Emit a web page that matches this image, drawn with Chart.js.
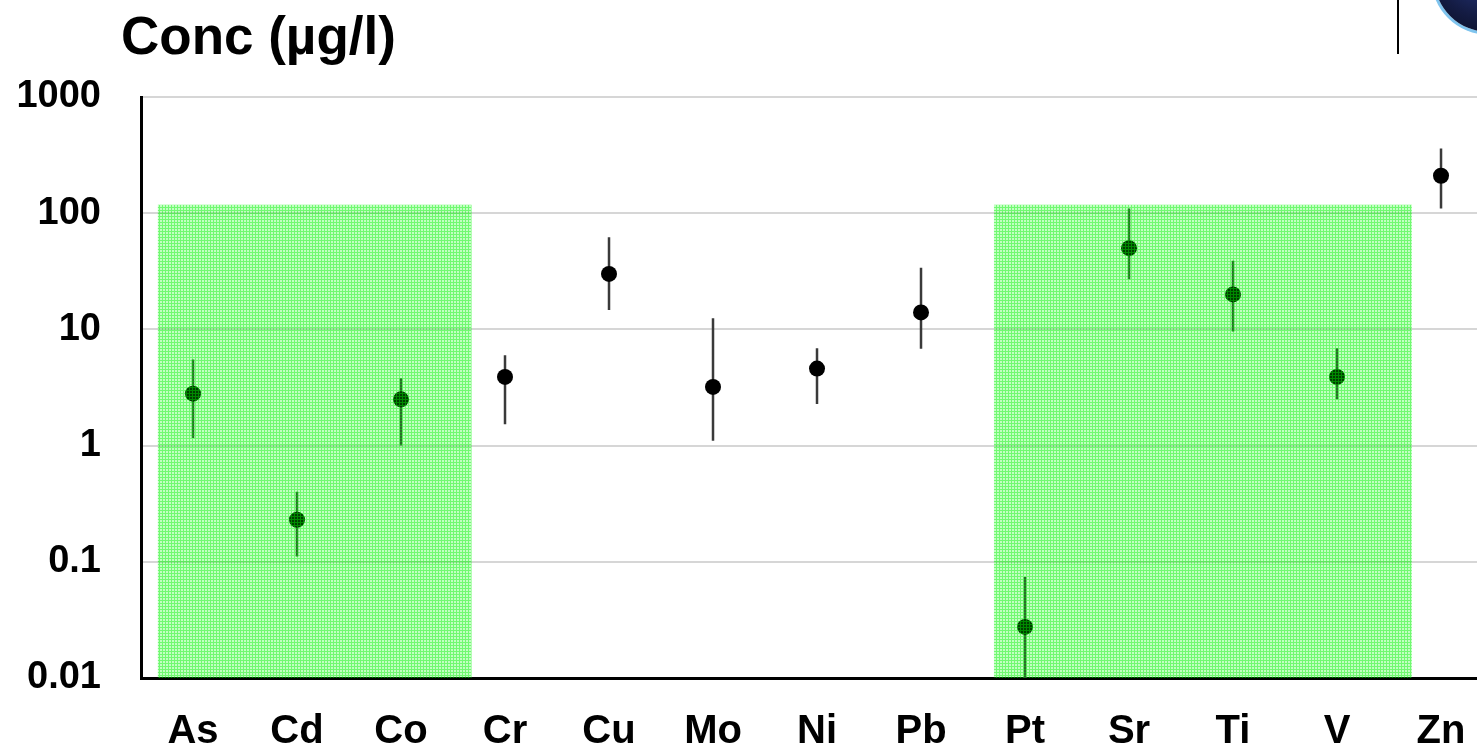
<!DOCTYPE html>
<html>
  <head>
    <title>Conc chart</title>
    <script src="https://cdn.jsdelivr.net/npm/chart.js@4.4.0/dist/chart.umd.min.js"></script>
    <style>
      body { margin: 0; background: #fff; }
      #wrap { position: relative; width: 1477px; height: 748px; overflow: hidden; }
      #title { position: absolute; left: 121px; top: 5px; font: bold 53px "Liberation Sans", Arial, sans-serif; color: #000; }
      #rule { position: absolute; left: 1397px; top: 0; width: 2px; height: 54px; background: #000; }
      #logo { position: absolute; left: 1434px; top: -78px; width: 110px; height: 110px; border-radius: 50%;
              background: radial-gradient(circle at 45% 40%, #2a3d8a 0%, #141c44 55%, #0a0f26 85%);
              box-shadow: 0 0 0 3px #7fc4ee; }
    </style>
  </head>
  <body>
    <div id="wrap">
      <canvas id="myChart" width="1477" height="748"></canvas>
      <div id="title">Conc (µg/l)</div>
      <div id="rule"></div>
      <div id="logo"></div>
    </div>
    <script>
      const elements = ['As', 'Cd', 'Co', 'Cr', 'Cu', 'Mo', 'Ni', 'Pb', 'Pt', 'Sr', 'Ti', 'V', 'Zn'];
      const conc = [2.8, 0.23, 2.5, 3.9, 30, 3.2, 4.6, 14, 0.0275, 50, 20, 3.9, 210];
      const concLow = [1.16, 0.111, 1.0, 1.53, 14.7, 1.1, 2.28, 6.8, 0.01, 27, 9.6, 2.5, 110];
      const concHigh = [5.5, 0.40, 3.8, 6.0, 62, 12.5, 6.9, 34, 0.074, 110, 39, 6.9, 360];
      const yTicks = [0.01, 0.1, 1, 10, 100, 1000];
      // shaded element groups (x in element index units) and their upper level
      const band1 = [-0.34, 2.68];
      const band2 = [7.7, 11.72];
      const bandTop = 118;

      // green mesh pattern for the shaded groups
      const tile = document.createElement('canvas');
      tile.width = 3; tile.height = 3;
      const tctx = tile.getContext('2d');
      tctx.fillStyle = 'rgba(0,255,0,0.24)';
      tctx.fillRect(0, 0, 3, 3);
      tctx.fillStyle = 'rgba(0,240,0,0.42)';
      tctx.fillRect(0, 0, 3, 1);
      tctx.fillRect(0, 1, 1, 2);
      const ctx = document.getElementById('myChart').getContext('2d');
      const mesh = ctx.createPattern(tile, 'repeat');

      // error bars as one broken line
      const bars = [];
      elements.forEach((el, i) => {
        bars.push({ x: i, y: concLow[i] }, { x: i, y: concHigh[i] }, { x: i, y: null });
      });

      const font = { family: '"Liberation Sans", Arial, sans-serif', weight: 'bold' };

      const myChart = new Chart(ctx, {
        type: 'line',
        data: {
          datasets: [
            {
              data: [{ x: band1[0], y: bandTop }, { x: band1[1], y: bandTop }],
              fill: 'start', backgroundColor: mesh, borderWidth: 0, pointRadius: 0, order: 0
            },
            {
              data: [{ x: band2[0], y: bandTop }, { x: band2[1], y: bandTop }],
              fill: 'start', backgroundColor: mesh, borderWidth: 0, pointRadius: 0, order: 0
            },
            {
              data: conc.map((v, i) => ({ x: i, y: v })),
              showLine: false, pointRadius: 8, pointBackgroundColor: '#000', pointBorderWidth: 0, order: 1
            },
            {
              data: bars, borderColor: '#3a3a3a', borderWidth: 2.5, pointRadius: 0, spanGaps: false, order: 2
            }
          ]
        },
        options: {
          responsive: false,
          animation: false,
          layout: { autoPadding: false, padding: { top: 97, right: 0, bottom: 0, left: 0 } },
          plugins: { legend: { display: false }, tooltip: { enabled: false } },
          scales: {
            x: {
              type: 'linear',
              min: -0.5,
              max: 12.346,
              afterBuildTicks: scale => { scale.ticks = elements.map((e, i) => ({ value: i })); },
              afterFit: scale => {
                scale.height = 70;
                scale.paddingLeft = 0;
                scale.paddingRight = 0;
              },
              ticks: {
                autoSkip: false,
                maxRotation: 0,
                padding: 22,
                color: '#000',
                font: { ...font, size: 40 },
                callback: v => elements[v]
              },
              grid: { display: false },
              border: { color: '#000', width: 3 }
            },
            y: {
              type: 'logarithmic',
              min: 0.01,
              max: 1000,
              afterBuildTicks: scale => { scale.ticks = yTicks.map(v => ({ value: v })); },
              afterFit: scale => { scale.width = 141; },
              ticks: {
                padding: 40,
                color: '#000',
                font: { ...font, size: 38 },
                callback: v => String(v)
              },
              grid: { color: '#d6d6d6', lineWidth: 2, drawTicks: false },
              border: { color: '#000', width: 3 }
            }
          }
        }
      });
    </script>
  </body>
</html>
